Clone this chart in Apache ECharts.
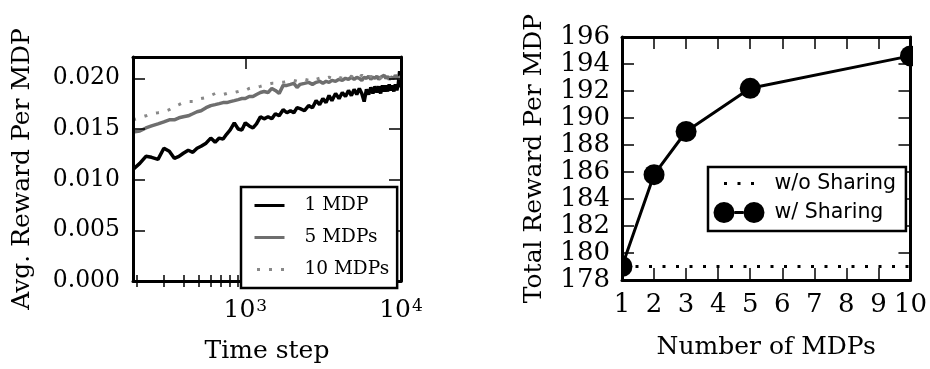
<!DOCTYPE html>
<html><head><meta charset="utf-8">
<script src="https://cdn.jsdelivr.net/npm/echarts@6/dist/echarts.min.js"></script>
<style>html,body{margin:0;padding:0;background:#fff}#c{width:930px;height:369px}</style>
</head><body><div id="c"></div>
<script>
// ---------- Left panel data ----------
const timeSteps = [190,210,230,250,275,300,325,350,375,400,
  430,460,490,520,560,600,640,680,720,760,
  800,850,900,950,1000,1060,1120,1180,1250,1320,
  1400,1480,1560,1650,1750,1850,1950,2050,2150,2250,
  2400,2550,2700,2850,3000,3150,3300,3450,3600,3800,
  4000,4200,4400,4600,4800,5000,5200,5400,5600,5800,
  6000,6200,6400,6600,6800,7000,7200,7400,7600,7800,
  8000,8200,8400,8600,8800,9000,9200,9400,9600,9800,
  10000];
const oneMDP = [0.0110,0.0116,0.0123,0.0122,0.0120,0.0131,0.0128,0.0121,0.0123,0.0126,
  0.0129,0.0127,0.0131,0.0133,0.0136,0.0141,0.0137,0.0141,0.0140,0.0145,
  0.0149,0.0156,0.0150,0.0149,0.0156,0.0153,0.0151,0.0155,0.0162,0.0160,
  0.0162,0.0160,0.0165,0.0163,0.0169,0.0166,0.0168,0.0166,0.0171,0.0170,
  0.0168,0.0173,0.0171,0.0178,0.0174,0.0180,0.0176,0.0183,0.0178,0.0185,
  0.0180,0.0186,0.0182,0.0188,0.0183,0.0189,0.0184,0.0190,0.0185,0.0177,
  0.0189,0.0184,0.0191,0.0185,0.0192,0.0186,0.0192,0.0185,0.0193,0.0187,
  0.0193,0.0187,0.0194,0.0188,0.0193,0.0187,0.0194,0.0188,0.0194,0.0207,
  0.0191];
const fiveMDPs = [0.0147,0.0148,0.0151,0.0153,0.0155,0.0157,0.0159,0.0159,0.0161,0.0162,
  0.0163,0.0165,0.0167,0.0168,0.0171,0.0173,0.0174,0.0175,0.0176,0.0176,
  0.0177,0.0178,0.0179,0.0180,0.0180,0.0182,0.0182,0.0184,0.0186,0.0187,
  0.0186,0.0190,0.0188,0.0185,0.0193,0.0193,0.0194,0.0195,0.0191,0.0194,
  0.0195,0.0196,0.0194,0.0196,0.0197,0.0195,0.0197,0.0196,0.0198,0.0197,
  0.0199,0.0198,0.0200,0.0199,0.0201,0.0199,0.0201,0.0200,0.0198,0.0201,
  0.0200,0.0202,0.0199,0.0201,0.0200,0.0202,0.0199,0.0201,0.0200,0.0203,
  0.0200,0.0202,0.0199,0.0201,0.0202,0.0200,0.0203,0.0201,0.0202,0.0200,
  0.0202];
const tenMDPs = [0.0159,0.0161,0.0163,0.0165,0.0166,0.0167,0.0169,0.0172,0.0174,0.0176,
  0.0177,0.0177,0.0179,0.0180,0.0181,0.0183,0.0185,0.0184,0.0184,0.0185,
  0.0186,0.0186,0.0187,0.0188,0.0188,0.0190,0.0191,0.0191,0.0192,0.0193,
  0.0194,0.0195,0.0195,0.0196,0.0196,0.0197,0.0197,0.0198,0.0197,0.0198,
  0.0199,0.0198,0.0200,0.0199,0.0200,0.0201,0.0200,0.0201,0.0200,0.0202,
  0.0201,0.0200,0.0202,0.0201,0.0202,0.0200,0.0202,0.0201,0.0203,0.0201,
  0.0202,0.0200,0.0202,0.0201,0.0203,0.0201,0.0202,0.0200,0.0202,0.0201,
  0.0203,0.0201,0.0202,0.0200,0.0202,0.0201,0.0203,0.0201,0.0202,0.0200,
  0.0202];
const leftYTicks = [0, 0.005, 0.010, 0.015, 0.020];
const leftXMajor = [1000, 10000];
const leftXMinor = [200,300,400,500,600,700,800,900,2000,3000,4000,5000,6000,7000,8000,9000];
const leftXMin = 190, leftXMax = 10000, leftYMin = 0, leftYMax = 0.0221;

// ---------- Right panel data ----------
const numMDPs = [1, 2, 3, 5, 10];
const withSharing = [179.0, 185.8, 189.0, 192.2, 194.6];
const noShareX = [1, 10];
const withoutSharing = [179.0, 179.0];
const rightXTicks = [1,2,3,4,5,6,7,8,9,10];
const rightYTicks = [178,180,182,184,186,188,190,192,194,196];

// ---------- Layout ----------
const LG = {left: 133, top: 57, width: 268, height: 224};
const RG = {left: 622, top: 37, width: 291, height: 243};
const SERIF = 'DejaVu Serif';
const SANS = 'DejaVu Sans';
const frameLine = {show: true, onZero: false, lineStyle: {color: '#000', width: 3}};
const noLine = {show: false};
const GRAY5 = '#6e6e6e', GRAY10 = '#888888';

function tickCfg(values, len) {
  return {show: true, inside: true, length: len, customValues: values, lineStyle: {color: '#000', width: 1.5}};
}

const chart = echarts.init(document.getElementById('c'), null, {renderer: 'canvas'});
chart.setOption({
  animation: false,
  backgroundColor: '#fff',
  grid: [
    Object.assign({containLabel: false}, LG),
    Object.assign({containLabel: false}, RG)
  ],
  xAxis: [
    {type: 'log', gridIndex: 0, position: 'bottom', min: leftXMin, max: leftXMax, z: 10,
     axisLine: frameLine, axisTick: tickCfg(leftXMajor, 12), splitLine: {show: false},
     axisLabel: {customValues: leftXMajor, margin: 17, color: '#000',
       formatter: v => '{b|10}{s|' + Math.round(Math.log10(v)) + '}',
       rich: {b: {fontFamily: SERIF, fontSize: 25, color: '#000'},
              s: {fontFamily: SERIF, fontSize: 17, color: '#000', verticalAlign: 'top', padding: [0,0,0,1]}}},
     name: 'Time step', nameLocation: 'middle', nameGap: 58,
     nameTextStyle: {fontFamily: SERIF, fontSize: 25, color: '#000'}},
    {type: 'log', gridIndex: 0, position: 'bottom', min: leftXMin, max: leftXMax, z: 10,
     axisLine: noLine, axisTick: tickCfg(leftXMinor, 6), axisLabel: {show: false}, splitLine: {show: false}},
    {type: 'log', gridIndex: 0, position: 'top', min: leftXMin, max: leftXMax, z: 10,
     axisLine: frameLine, axisTick: tickCfg(leftXMajor, 12), axisLabel: {show: false}, splitLine: {show: false}},
    {type: 'log', gridIndex: 0, position: 'top', min: leftXMin, max: leftXMax, z: 10,
     axisLine: noLine, axisTick: tickCfg(leftXMinor, 6), axisLabel: {show: false}, splitLine: {show: false}},
    {type: 'value', gridIndex: 1, position: 'bottom', min: 1, max: 10, z: 10,
     axisLine: frameLine, axisTick: tickCfg(rightXTicks, 12), splitLine: {show: false},
     axisLabel: {customValues: rightXTicks, margin: 12, fontFamily: SERIF, fontSize: 26, color: '#000'},
     name: 'Number of MDPs', nameLocation: 'middle', nameGap: 55,
     nameTextStyle: {fontFamily: SERIF, fontSize: 25, color: '#000'}},
    {type: 'value', gridIndex: 1, position: 'top', min: 1, max: 10, z: 10,
     axisLine: frameLine, axisTick: tickCfg(rightXTicks, 12), axisLabel: {show: false}, splitLine: {show: false}}
  ],
  yAxis: [
    {type: 'value', gridIndex: 0, position: 'left', min: leftYMin, max: leftYMax, z: 10,
     axisLine: frameLine, axisTick: tickCfg(leftYTicks, 12), splitLine: {show: false},
     axisLabel: {customValues: leftYTicks, margin: 13, fontFamily: SERIF, fontSize: 23.5, color: '#000',
       formatter: v => v.toFixed(3)},
     name: 'Avg. Reward Per MDP', nameLocation: 'middle', nameGap: 98,
     nameTextStyle: {fontFamily: SERIF, fontSize: 25, color: '#000'}},
    {type: 'value', gridIndex: 0, position: 'right', min: leftYMin, max: leftYMax, z: 10,
     axisLine: frameLine, axisTick: tickCfg(leftYTicks, 12), axisLabel: {show: false}, splitLine: {show: false}},
    {type: 'value', gridIndex: 1, position: 'left', min: 178, max: 196, z: 10,
     axisLine: frameLine, axisTick: tickCfg(rightYTicks, 12), splitLine: {show: false},
     axisLabel: {customValues: rightYTicks, margin: 12, fontFamily: SERIF, fontSize: 26, color: '#000'},
     name: 'Total Reward Per MDP', nameLocation: 'middle', nameGap: 75,
     nameTextStyle: {fontFamily: SERIF, fontSize: 25, color: '#000'}},
    {type: 'value', gridIndex: 1, position: 'right', min: 178, max: 196, z: 10,
     axisLine: frameLine, axisTick: tickCfg(rightYTicks, 12), axisLabel: {show: false}, splitLine: {show: false}}
  ],
  legend: [
    {z: 20, left: 241, top: 187, orient: 'vertical', selectedMode: false,
     backgroundColor: '#fff', borderColor: '#000', borderWidth: 2.5, borderRadius: 0,
     padding: [9, 8, 9, 12], itemWidth: 30, itemHeight: 14, itemGap: 13,
     textStyle: {fontFamily: SERIF, fontSize: 18.5, color: '#000', padding: [0, 0, 0, 15]},
     data: [
       {name: '1 MDP', itemStyle: {opacity: 0}, lineStyle: {color: '#000', width: 3, type: 'solid'}},
       {name: '5 MDPs', itemStyle: {opacity: 0}, lineStyle: {color: GRAY5, width: 3, type: 'solid'}},
       {name: '10 MDPs', itemStyle: {opacity: 0}, lineStyle: {color: GRAY10, width: 3, type: [3, 9], dashOffset: 9.5}}
     ]},
    {z: 20, left: 708, top: 167, orient: 'vertical', selectedMode: false,
     backgroundColor: '#fff', borderColor: '#000', borderWidth: 2.5, borderRadius: 0,
     padding: [6, 10, 8, 4], itemWidth: 51, itemHeight: 21, itemGap: 8,
     textStyle: {fontFamily: SANS, fontSize: 20.5, color: '#000', padding: [0, 0, 0, 5]},
     data: [
       {name: 'w/o Sharing', itemStyle: {opacity: 0}, lineStyle: {color: '#000', width: 3, type: [3, 10.5], dashOffset: 3}},
       {name: 'w/ Sharing', icon: 'path://M0,10.5a10.5,10.5 0 1,0 21,0a10.5,10.5 0 1,0 -21,0Z M30,10.5a10.5,10.5 0 1,0 21,0a10.5,10.5 0 1,0 -21,0Z M21,9h9v3h-9Z'}
     ]}
  ],
  graphic: [
    {type: 'rect', z: 5, silent: true, shape: {x: RG.left - 30, y: RG.top - 20, width: 30, height: RG.height + 40}, style: {fill: '#fff'}},
    {type: 'rect', z: 5, silent: true, shape: {x: RG.left + RG.width, y: RG.top - 20, width: 40, height: RG.height + 40}, style: {fill: '#fff'}}
  ],
  series: [
    {name: '1 MDP', type: 'line', xAxisIndex: 0, yAxisIndex: 0, symbol: 'none', z: 2,
     data: timeSteps.map((t, i) => [t, oneMDP[i]]), color: '#000',
     lineStyle: {color: '#000', width: 3.5}},
    {name: '5 MDPs', type: 'line', xAxisIndex: 0, yAxisIndex: 0, symbol: 'none', z: 2,
     data: timeSteps.map((t, i) => [t, fiveMDPs[i]]), color: GRAY5,
     lineStyle: {color: GRAY5, width: 3.5}},
    {name: '10 MDPs', type: 'line', xAxisIndex: 0, yAxisIndex: 0, symbol: 'none', z: 2,
     data: timeSteps.map((t, i) => [t, tenMDPs[i]]), color: GRAY10,
     lineStyle: {color: GRAY10, width: 3, type: [3, 9]}},
    {name: 'w/o Sharing', type: 'line', xAxisIndex: 4, yAxisIndex: 2, symbol: 'none', z: 2,
     data: noShareX.map((x, i) => [x, withoutSharing[i]]), color: '#000',
     lineStyle: {color: '#000', width: 3, type: [3, 10.5]}},
    {name: 'w/ Sharing', type: 'line', xAxisIndex: 4, yAxisIndex: 2, symbol: 'circle', symbolSize: 21, z: 3,
     data: numMDPs.map((x, i) => [x, withSharing[i]]), color: '#000',
     itemStyle: {color: '#000'}, lineStyle: {color: '#000', width: 3}}
  ]
});
</script></body></html>
